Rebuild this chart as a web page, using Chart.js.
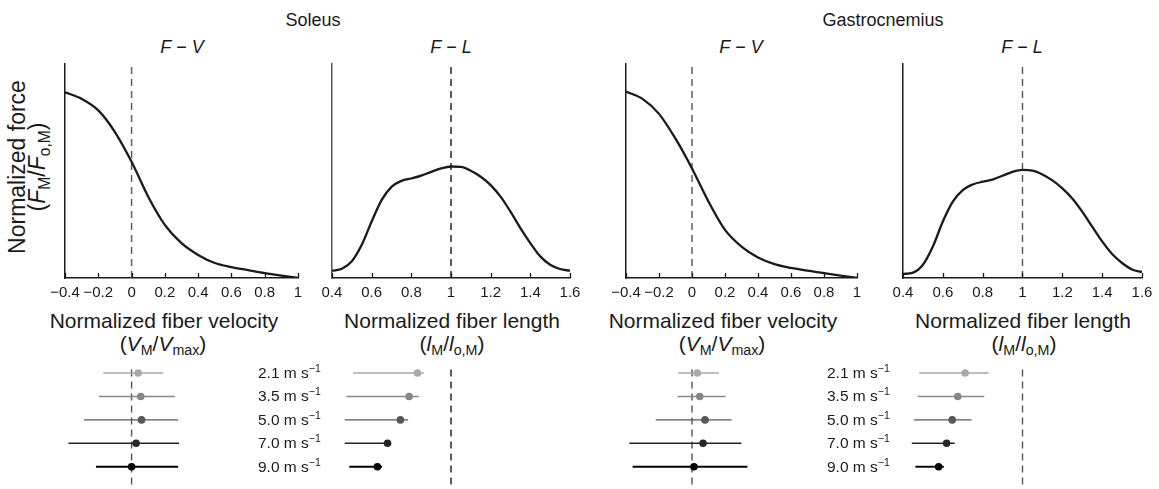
<!DOCTYPE html>
<html>
<head>
<meta charset="utf-8">
<script src="https://cdn.jsdelivr.net/npm/chart.js@4.4.0/dist/chart.umd.min.js"></script>
<style>
body { margin: 0; background: #fff; }
#fig { position: relative; width: 1159px; height: 489px; overflow: hidden; font-family: "Liberation Sans", Arial, sans-serif; color: #1a1a1a; }
#fig canvas { position: absolute; }
.t { position: absolute; white-space: nowrap; transform: translate(-50%, -50%); line-height: 1; }
.big { font-size: 21px; }
.head { font-size: 18px; }
.spd { position: absolute; white-space: nowrap; font-size: 15.5px; transform: translateY(-50%); line-height: 1; }
sub { font-size: 0.68em; vertical-align: -0.3em; line-height: 0; }
sup { font-size: 0.68em; vertical-align: 0.55em; line-height: 0; }
i { font-style: italic; }
.ytitle { position: absolute; left: 27px; top: 167px; transform: translate(-50%, -50%) rotate(-90deg); font-size: 23px; line-height: 20px; text-align: center; white-space: nowrap; }
</style>
</head>
<body>
<div id="fig">
  <div class="t head" style="left:313px;top:20px">Soleus</div>
  <div class="t head" style="left:883px;top:20px">Gastrocnemius</div>
  <div class="t head" style="left:182px;top:47px"><i>F</i> − <i>V</i></div>
  <div class="t head" style="left:451px;top:47px"><i>F</i> − <i>L</i></div>
  <div class="t head" style="left:741px;top:47px"><i>F</i> − <i>V</i></div>
  <div class="t head" style="left:1022px;top:47px"><i>F</i> − <i>L</i></div>
  <div class="ytitle">Normalized force<br>(<i>F</i><sub>M</sub>/<i>F</i><sub>o,M</sub>)</div>
  <div class="t big" style="left:164px;top:320px">Normalized fiber velocity</div>
  <div class="t big" style="left:163px;top:343px">(<i>V</i><sub>M</sub>/<i>V</i><sub>max</sub>)</div>
  <div class="t big" style="left:452px;top:320px">Normalized fiber length</div>
  <div class="t big" style="left:452px;top:343px">(<i>l</i><sub>M</sub>/<i>l</i><sub>o,M</sub>)</div>
  <div class="t big" style="left:723px;top:320px">Normalized fiber velocity</div>
  <div class="t big" style="left:722px;top:343px">(<i>V</i><sub>M</sub>/<i>V</i><sub>max</sub>)</div>
  <div class="t big" style="left:1023px;top:320px">Normalized fiber length</div>
  <div class="t big" style="left:1024px;top:343px">(<i>l</i><sub>M</sub>/<i>l</i><sub>o,M</sub>)</div>
</div>
<script>
// force-velocity curves (normalized force vs normalized fiber velocity)
var fvVelocity = [-0.4, -0.3, -0.2, -0.1, 0, 0.1, 0.2, 0.3, 0.4, 0.5, 0.6, 0.7, 0.8, 0.9, 1.0];
var soleusFV = [0.868, 0.837, 0.783, 0.682, 0.543, 0.380, 0.248, 0.163, 0.108, 0.070, 0.051, 0.037, 0.023, 0.011, 0];
var gastrocFV = [0.871, 0.837, 0.767, 0.651, 0.512, 0.357, 0.225, 0.147, 0.096, 0.065, 0.047, 0.034, 0.023, 0.011, 0];

// force-length curves (normalized force vs normalized fiber length)
var flLength = [0.4, 0.45, 0.5, 0.55, 0.6, 0.65, 0.7, 0.75, 0.8, 0.85, 0.9, 0.95, 1.0,
                1.05, 1.1, 1.15, 1.2, 1.25, 1.3, 1.35, 1.4, 1.45, 1.5, 1.55, 1.6];
var soleusFL = [0.034, 0.043, 0.078, 0.155, 0.264, 0.364, 0.426, 0.454, 0.465, 0.478, 0.496, 0.512, 0.521,
                0.519, 0.501, 0.473, 0.434, 0.380, 0.310, 0.233, 0.163, 0.101, 0.062, 0.042, 0.034];
var gastrocFL = [0.019, 0.025, 0.062, 0.147, 0.264, 0.357, 0.411, 0.437, 0.450, 0.460, 0.478, 0.496, 0.505,
                 0.502, 0.484, 0.456, 0.419, 0.372, 0.310, 0.240, 0.171, 0.112, 0.070, 0.040, 0.028];

// running speeds (m/s) and operating ranges per speed
var speeds = ['2.1', '3.5', '5.0', '7.0', '9.0'];
var soleusFVMean = [0.040, 0.055, 0.060, 0.027, 0.000];
var soleusFVLow = [-0.170, -0.195, -0.286, -0.380, -0.214];
var soleusFVHigh = [0.190, 0.260, 0.280, 0.285, 0.280];
var soleusFLMean = [0.831, 0.789, 0.745, 0.680, 0.629];
var soleusFLLow = [0.506, 0.472, 0.464, 0.464, 0.487];
var soleusFLHigh = [0.864, 0.838, 0.784, 0.685, 0.652];
var gastrocFVMean = [0.032, 0.047, 0.079, 0.067, 0.012];
var gastrocFVLow = [-0.084, -0.087, -0.220, -0.380, -0.360];
var gastrocFVHigh = [0.163, 0.204, 0.240, 0.300, 0.336];
var gastrocFLMean = [0.712, 0.675, 0.647, 0.619, 0.579];
var gastrocFLLow = [0.481, 0.474, 0.456, 0.444, 0.462];
var gastrocFLHigh = [0.830, 0.808, 0.744, 0.660, 0.605];

var rowColors = ['#a9a9a9', '#878787', '#575757', '#262626', '#000000'];

Chart.defaults.font.family = '"Liberation Sans", Arial, sans-serif';
Chart.defaults.color = '#1a1a1a';

var fig = document.getElementById('fig');

// small tick marks pointing up into the plot
var innerTicks = {
    id: 'innerTicks',
    afterDraw: function (chart) {
        var s = chart.scales.x, c = chart.ctx, yb = chart.chartArea.bottom;
        c.save();
        c.strokeStyle = '#1a1a1a';
        c.lineWidth = 1.3;
        s.ticks.forEach(function (t) {
            var px = Math.round(s.getPixelForValue(t.value)) + 0.5;
            c.beginPath();
            c.moveTo(px, yb);
            c.lineTo(px, yb - 5);
            c.stroke();
        });
        c.restore();
    }
};

function addCanvas(left, top, w, h) {
    var cv = document.createElement('canvas');
    cv.width = w; cv.height = h;
    cv.style.left = left + 'px';
    cv.style.top = top + 'px';
    fig.appendChild(cv);
    return cv.getContext('2d');
}

function tickLabel(v) {
    var s = String(Math.round(v * 10) / 10);
    return s.replace('-', '\u2212');
}

function topPanel(p, xs, ys) {
    // chart area: p.left..p.right, y 64..280
    var ctx = addCanvas(p.left - 25, 54, p.right - p.left + 50, 250);
    return new Chart(ctx, {
        type: 'line',
        data: {
            datasets: [{
                data: xs.map(function (x, i) { return { x: x, y: ys[i] }; }),
                borderColor: '#1a1a1a',
                borderWidth: 2.3,
                pointRadius: 0,
                cubicInterpolationMode: 'monotone'
            }, {
                data: [{ x: p.ref, y: 0 }, { x: p.ref, y: 1 }],
                borderColor: p.dash,
                borderWidth: 1.4,
                borderDash: [7, 5],
                pointRadius: 0
            }]
        },
        options: {
            responsive: false,
            animation: false,
            devicePixelRatio: 1,
            layout: { autoPadding: false, padding: { left: 25, right: 25, top: 10, bottom: 0 } },
            plugins: { legend: { display: false }, tooltip: { enabled: false } },
            scales: {
                x: {
                    type: 'linear', min: p.min, max: p.max,
                    ticks: { stepSize: 0.2, padding: 6, autoSkip: false, maxRotation: 0, minRotation: 0,
                             font: { size: 15 }, color: '#1a1a1a', callback: tickLabel },
                    grid: { display: false, drawTicks: false },
                    border: { display: true, color: '#1a1a1a', width: 1.5 },
                    afterFit: function (s) { s.height = 26; }
                },
                y: {
                    min: 0, max: 1,
                    ticks: { display: false },
                    grid: { display: false, drawTicks: false },
                    border: { display: true, color: p.axis, width: 1.5 },
                    afterFit: function (s) { s.width = 0; }
                }
            }
        },
        plugins: [innerTicks]
    });
}

function bottomPanel(p, mean, low, high, labelLeft) {
    var ctx = addCanvas(p.left, 366, p.right - p.left, 123);
    var sets = speeds.map(function (s, i) {
        return {
            data: [{ x: low[i], y: i + 1 }, { x: high[i], y: i + 1 }],
            borderColor: rowColors[i],
            borderWidth: i === 4 ? 1.9 : 1.4,
            pointRadius: 0
        };
    });
    sets.push({
        data: mean.map(function (m, i) { return { x: m, y: i + 1 }; }),
        showLine: false,
        pointRadius: 3.8,
        pointBorderWidth: 0,
        pointBackgroundColor: rowColors
    });
    sets.push({
        data: [{ x: p.ref, y: 0.85 }, { x: p.ref, y: 5.9 }],
        borderColor: p.dash,
        borderWidth: 1.4,
        borderDash: [7, 5],
        pointRadius: 0
    });
    var chart = new Chart(ctx, {
        type: 'line',
        data: { datasets: sets },
        options: {
            responsive: false,
            animation: false,
            devicePixelRatio: 1,
            layout: { autoPadding: false, padding: 0 },
            plugins: { legend: { display: false }, tooltip: { enabled: false } },
            scales: {
                x: { type: 'linear', min: p.min, max: p.max, display: false },
                y: { type: 'linear', min: 0.7, max: 5.95, reverse: true, display: false }
            }
        }
    });
    if (labelLeft) {
        speeds.forEach(function (s, i) {
            var el = document.createElement('div');
            el.className = 'spd';
            el.style.left = labelLeft + 'px';
            el.style.top = (366 + chart.scales.y.getPixelForValue(i + 1)) + 'px';
            el.innerHTML = s + ' m s<sup>\u22121</sup>';
            fig.appendChild(el);
        });
    }
    return chart;
}

var panels = [
    { left: 65, right: 298, min: -0.4, max: 1, ref: 0, dash: '#555555', axis: '#1a1a1a' },
    { left: 332, right: 570, min: 0.4, max: 1.6, ref: 1, dash: '#1a1a1a', axis: '#555555' },
    { left: 626, right: 857, min: -0.4, max: 1, ref: 0, dash: '#555555', axis: '#1a1a1a' },
    { left: 903, right: 1142, min: 0.4, max: 1.6, ref: 1, dash: '#555555', axis: '#1a1a1a' }
];

topPanel(panels[0], fvVelocity, soleusFV);
topPanel(panels[1], flLength, soleusFL);
topPanel(panels[2], fvVelocity, gastrocFV);
topPanel(panels[3], flLength, gastrocFL);

bottomPanel(panels[0], soleusFVMean, soleusFVLow, soleusFVHigh, 0);
bottomPanel(panels[1], soleusFLMean, soleusFLLow, soleusFLHigh, 258);
bottomPanel(panels[2], gastrocFVMean, gastrocFVLow, gastrocFVHigh, 0);
bottomPanel(panels[3], gastrocFLMean, gastrocFLLow, gastrocFLHigh, 827);
</script>
</body>
</html>
